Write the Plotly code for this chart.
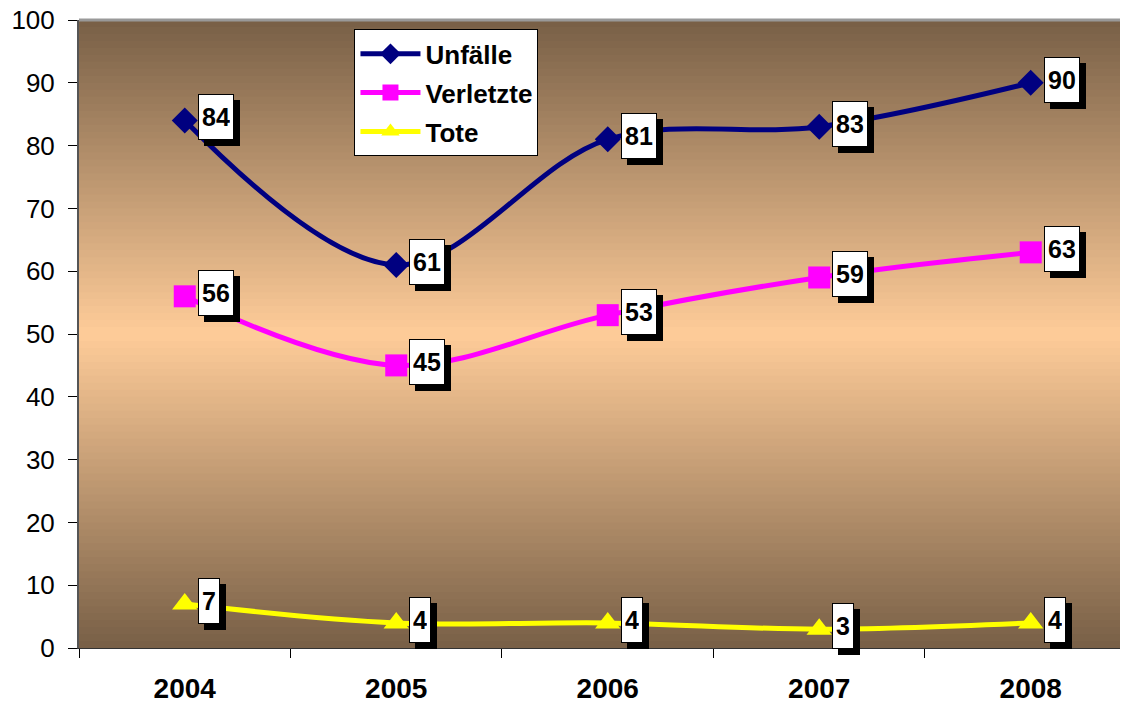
import plotly.graph_objects as go

years = ["2004", "2005", "2006", "2007", "2008"]
unfaelle = [84, 61, 81, 83, 90]
verletzte = [56, 45, 53, 59, 63]
tote = [7, 4, 4, 3, 4]

series = [
    ("Unfälle", unfaelle, "#000080", "diamond", 20),
    ("Verletzte", verletzte, "#FF00FF", "square", 22),
    ("Tote", tote, "#FFFF00", "triangle-up", 22),
]

fig = go.Figure()
for name, vals, col, sym, ms in series:
    fig.add_trace(go.Scatter(
        x=years, y=vals, name=name, mode="lines+markers",
        line=dict(color=col, width=5, shape="spline", smoothing=1.0),
        marker=dict(symbol=sym, size=ms, color=col),
        legendgroup=name, cliponaxis=False,
    ))

# data labels with drop shadow (x given as category index)
FAM = "Liberation Sans, Arial"
for name, vals, col, sym, ms in series:
    for i, v in enumerate(vals):
        fig.add_annotation(x=i, y=v, xref="x", yref="y", text="<b>%d</b>" % v, showarrow=False,
                           xanchor="left", yanchor="middle", xshift=13 + 6, yshift=3 - 6,
                           font=dict(family=FAM, size=25, color="black"),
                           bgcolor="black", bordercolor="black", borderwidth=1,
                           borderpad=3, height=38)
        fig.add_annotation(x=i, y=v, xref="x", yref="y", text="<b>%d</b>" % v, showarrow=False,
                           xanchor="left", yanchor="middle", xshift=13, yshift=3,
                           font=dict(family=FAM, size=25, color="black"),
                           bgcolor="white", bordercolor="black", borderwidth=1,
                           borderpad=3, height=38)

# background gradient (dark - light - dark)
dark = (119, 95, 70)
light = (255, 204, 153)
n = 90
shapes = []
for k in range(n):
    y0 = k / n
    y1 = (k + 1) / n
    mid = (y0 + y1) / 2
    t = min(1.0, abs(mid - 0.5) / 0.5)
    c = tuple(int(round(light[j] + (dark[j] - light[j]) * t)) for j in range(3))
    shapes.append(dict(type="rect", xref="x domain", yref="y domain",
                       x0=0, x1=1, y0=y0, y1=min(1, y1 + 0.002), layer="below",
                       line=dict(width=0), fillcolor="rgb(%d,%d,%d)" % c))
shapes.append(dict(type="line", xref="x domain", yref="y domain",
                   x0=0, x1=1, y0=1, y1=1, layer="above",
                   line=dict(color="#999999", width=3)))

# page body has an 8px margin: figure is sized/offset to compensate
fig.update_layout(
    width=1120, height=698,
    margin=dict(l=71, r=0, t=12, b=58, autoexpand=False),
    paper_bgcolor="white",
    plot_bgcolor="rgb(119,95,70)",
    shapes=shapes,
    showlegend=True,
    legend=dict(
        x=0.2626, y=0.985, xanchor="left", yanchor="top",
        bgcolor="white", bordercolor="black", borderwidth=1,
        font=dict(family=FAM, size=26, color="black", weight="bold"),
        traceorder="grouped", tracegroupgap=2, itemwidth=60,
        entrywidth=125, entrywidthmode="pixels",
    ),
    font=dict(family=FAM, color="black"),
)
fig.update_xaxes(
    type="category", range=[-0.5, 4.46], tickson="boundaries",
    ticks="outside", ticklen=9, tickcolor="black", tickwidth=1,
    showline=True, linecolor="#333333", linewidth=1,
    showgrid=False, zeroline=False, automargin=False,
    tickfont=dict(family=FAM, size=28, color="black", weight="bold"),
    ticklabelstandoff=15,
)
fig.update_yaxes(
    range=[0, 100], dtick=10, tick0=0,
    ticks="outside", ticklen=9, tickcolor="black", tickwidth=1,
    showline=True, linecolor="#555555", linewidth=2,
    showgrid=False, zeroline=False, automargin=False,
    tickfont=dict(family=FAM, size=26, color="black"),
    ticklabelstandoff=8, ticklabeloverflow="allow",
)

fig.write_html("out.html")
